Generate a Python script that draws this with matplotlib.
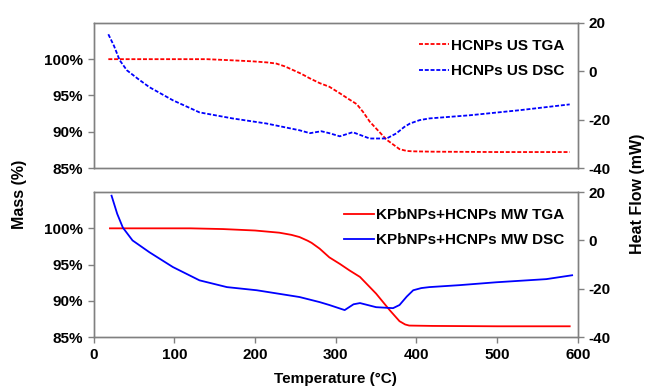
import matplotlib.pyplot as plt
from matplotlib.ticker import FuncFormatter

# --- DATA ---
# top panel: HCNPs US
us_tga_t = [18, 60, 100, 140, 170, 197, 215, 226, 237, 247, 257, 267, 280, 292, 305, 316, 326, 334, 342, 363, 379, 388, 395, 420, 500, 590]
us_tga_m = [100.0, 100.0, 100.0, 100.0, 99.85, 99.7, 99.55, 99.4, 99.0, 98.5, 98.0, 97.4, 96.7, 96.2, 95.3, 94.5, 93.8, 92.7, 91.4, 88.9, 87.6, 87.35, 87.3, 87.25, 87.2, 87.2]

us_dsc_t = [18, 25, 32, 41, 55, 69, 98, 131, 172, 214, 255, 268, 282, 292, 305, 321, 342, 363, 375, 385, 392, 404, 416, 466, 528, 590]
us_dsc_h = [15.3, 10.5, 4.6, 0.4, -3.2, -6.6, -12.0, -17.0, -19.5, -21.6, -24.4, -25.6, -24.8, -25.6, -26.9, -25.2, -27.8, -27.8, -25.7, -23.0, -21.6, -20.2, -19.5, -18.2, -16.1, -13.7]

# bottom panel: KPbNPs+HCNPs MW
mw_tga_t = [20, 60, 120, 160, 200, 230, 245, 255, 265, 270, 280, 292, 305, 317, 330, 350, 367, 379, 386, 391, 420, 500, 590]
mw_tga_m = [100.0, 100.0, 100.0, 99.9, 99.7, 99.4, 99.1, 98.8, 98.3, 98.0, 97.2, 96.0, 95.1, 94.2, 93.3, 91.0, 88.7, 87.2, 86.75, 86.6, 86.55, 86.5, 86.5]

mw_dsc_t = [22, 29, 36, 48, 69, 98, 131, 165, 202, 255, 280, 292, 311, 322, 330, 350, 371, 379, 388, 396, 406, 416, 453, 499, 561, 577, 593]
mw_dsc_h = [18.5, 11.0, 5.3, 0.0, -4.9, -11.0, -16.5, -19.3, -20.6, -23.4, -25.5, -26.7, -28.8, -26.4, -25.9, -27.6, -28.0, -26.7, -23.2, -20.6, -19.7, -19.3, -18.5, -17.3, -16.0, -15.2, -14.4]

x_ticks = [0, 100, 200, 300, 400, 500, 600]
mass_ticks = [85, 90, 95, 100]
heat_ticks = [-40, -20, 0, 20]

# --- STYLE ---
plt.rcParams["font.family"] = ["Liberation Sans", "DejaVu Sans"]
plt.rcParams["font.weight"] = "bold"
plt.rcParams["font.size"] = 11
plt.rcParams["axes.unicode_minus"] = False
spine_col = "#808080"

fig = plt.figure(figsize=(6.47, 3.88), dpi=100)

panels = [
    (0.567, us_tga_t, us_tga_m, us_dsc_t, us_dsc_h, (0, (2.2, 1.0)),
     "HCNPs US TGA", "HCNPs US DSC", False),
    (0.131, mw_tga_t, mw_tga_m, mw_dsc_t, mw_dsc_h, "-",
     "KPbNPs+HCNPs MW TGA", "KPbNPs+HCNPs MW DSC", True),
]

for bottom, tt, mm, dt, hh, ls, lab1, lab2, show_x in panels:
    ax = fig.add_axes([0.145, bottom, 0.748, 0.374])
    ax2 = ax.twinx()

    l1, = ax.plot(tt, mm, color="#ff0000", ls=ls, lw=1.3, label=lab1)
    l2, = ax2.plot(dt, hh, color="#0000ff", ls=ls, lw=1.3, label=lab2)

    ax.set_xlim(0, 600)
    ax.set_ylim(85, 105)
    ax.set_yticks(mass_ticks)
    ax.yaxis.set_major_formatter(FuncFormatter(lambda v, p: f"{v:.0f}%"))
    ax2.set_ylim(-40, 20)
    ax2.set_yticks(heat_ticks)

    for a in (ax, ax2):
        for s in a.spines.values():
            s.set_color(spine_col)
            s.set_linewidth(1.0)
        a.tick_params(color=spine_col, length=4, width=1.0, labelsize=11)

    if show_x:
        ax.set_xticks(x_ticks)
    else:
        ax.set_xticks([])

    ax.legend(handles=[l1, l2], loc="upper right", frameon=False,
              bbox_to_anchor=(1.0, 0.985), handlelength=2.0, handletextpad=0.1,
              labelspacing=0.75, prop={"weight": "bold", "size": 11})

fig.text(0.03, 0.5, "Mass (%)", rotation=90, va="center", ha="center",
         fontsize=11.5, fontweight="bold")
fig.text(0.985, 0.5, "Heat Flow (mW)", rotation=90, va="center", ha="center",
         fontsize=11.5, fontweight="bold")
fig.text(0.518, 0.004, "Temperature (°C)", va="bottom", ha="center",
         fontsize=11, fontweight="bold")

fig.savefig("out.png", dpi=100)
plt.close(fig)
